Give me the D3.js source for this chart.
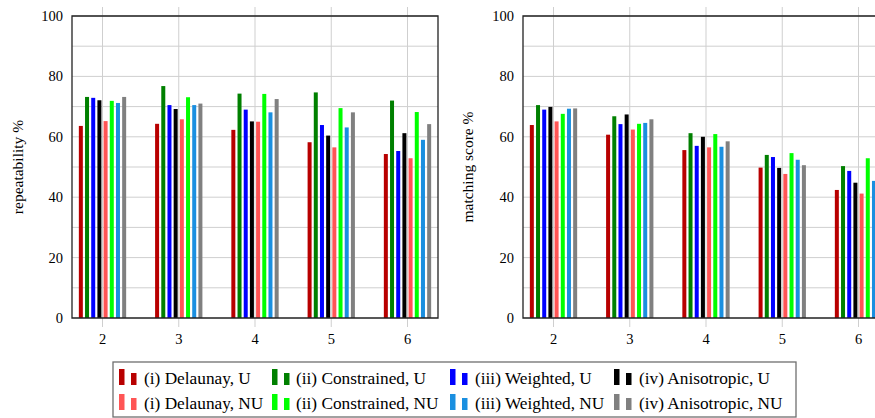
<!DOCTYPE html>
<html>
<head>
<meta charset="utf-8">
<script src="https://cdn.jsdelivr.net/npm/d3@7"></script>
<style>
  html, body { margin: 0; padding: 0; background: #fff; }
  svg { display: block; }
  text { font-family: "Liberation Serif", "Times New Roman", serif; fill: #000; }
</style>
</head>
<body>
<svg id="chart" width="875" height="418"></svg>
<script>
// ---- data ----
const categories = [2, 3, 4, 5, 6];
const seriesNames = [
  "(i) Delaunay, U", "(ii) Constrained, U", "(iii) Weighted, U", "(iv) Anisotropic, U",
  "(i) Delaunay, NU", "(ii) Constrained, NU", "(iii) Weighted, NU", "(iv) Anisotropic, NU"
];
const seriesColors = ["#b80000", "#008000", "#0000ff", "#000000", "#ff5555", "#00ff00", "#1a8fe0", "#808080"];
const yTicks = [0, 20, 40, 60, 80, 100];

// repeatability %, one array per series (categories 2..6)
const repDelaunayU      = [63.6, 64.3, 62.3, 58.2, 54.3];
const repConstrainedU   = [73.2, 76.8, 74.3, 74.7, 72.0];
const repWeightedU      = [72.9, 70.5, 69.0, 63.9, 55.3];
const repAnisotropicU   = [72.1, 69.2, 65.1, 60.4, 61.2];
const repDelaunayNU     = [65.2, 65.8, 65.0, 56.5, 52.9];
const repConstrainedNU  = [71.9, 73.1, 74.2, 69.5, 68.2];
const repWeightedNU     = [71.2, 70.5, 68.1, 63.1, 59.0];
const repAnisotropicNU  = [73.2, 71.0, 72.5, 68.1, 64.2];

// matching score %
const msDelaunayU       = [63.9, 60.7, 55.6, 49.8, 42.4];
const msConstrainedU    = [70.5, 66.8, 61.2, 54.0, 50.3];
const msWeightedU       = [69.0, 64.2, 57.0, 53.3, 48.7];
const msAnisotropicU    = [69.9, 67.4, 60.0, 49.7, 44.8];
const msDelaunayNU      = [65.1, 62.4, 56.5, 47.7, 41.2];
const msConstrainedNU   = [67.6, 64.3, 60.9, 54.6, 52.9];
const msWeightedNU      = [69.3, 64.6, 56.7, 52.4, 45.4];
const msAnisotropicNU   = [69.4, 65.8, 58.5, 50.6, 45.0];

const repSeries = [repDelaunayU, repConstrainedU, repWeightedU, repAnisotropicU,
                   repDelaunayNU, repConstrainedNU, repWeightedNU, repAnisotropicNU];
const msSeries  = [msDelaunayU, msConstrainedU, msWeightedU, msAnisotropicU,
                   msDelaunayNU, msConstrainedNU, msWeightedNU, msAnisotropicNU];

// ---- drawing ----
const svg = d3.select("#chart");
const yTop = 16, yBot = 318;
const y = d3.scaleLinear().domain([0, 100]).range([yBot, yTop]);
const gridColor = "#cfcfcf";
const barW = 4;

function panel(x0, x1, series, label, labelX) {
  const g = svg.append("g");
  const x = d3.scaleLinear().domain([1.6, 6.4]).range([x0, x1]);
  const band = d3.scaleBand().domain(d3.range(seriesNames.length)).range([-24.75, 24.75]).padding(0);

  // horizontal grid every 10
  g.selectAll(".hg").data(d3.range(10, 101, 10)).join("line")
    .attr("x1", x0).attr("x2", x1)
    .attr("y1", d => y(d)).attr("y2", d => y(d))
    .attr("stroke", gridColor).attr("stroke-width", 1);

  // vertical grid + outer ticks
  g.selectAll(".vg").data(categories).join("line")
    .attr("x1", d => x(d)).attr("x2", d => x(d))
    .attr("y1", yTop - 9).attr("y2", yBot + 9)
    .attr("stroke", gridColor).attr("stroke-width", 1);

  // bars
  series.forEach((vals, si) => {
    g.selectAll(".b" + si).data(vals).join("rect")
      .attr("x", (d, i) => x(categories[i]) + band(si) + (band.bandwidth() - barW) / 2)
      .attr("width", barW)
      .attr("y", d => y(d))
      .attr("height", d => y(0) - y(d))
      .attr("fill", seriesColors[si]);
  });

  // frame
  g.append("path")
    .attr("d", `M${x0},${yTop}H${x1}V${yBot}H${x0}Z`)
    .attr("fill", "none").attr("stroke", "#222").attr("stroke-width", 1.3);

  // y tick labels
  g.selectAll(".yl").data(yTicks).join("text")
    .attr("x", x0 - 9).attr("y", d => y(d))
    .attr("dy", "0.34em").attr("text-anchor", "end")
    .attr("font-size", "14.5px").text(d => d);

  // x tick labels
  g.selectAll(".xl").data(categories).join("text")
    .attr("x", d => x(d)).attr("y", yBot + 26)
    .attr("text-anchor", "middle")
    .attr("font-size", "14.5px").text(d => d);

  // axis label
  g.append("text")
    .attr("transform", `translate(${labelX},${(yTop + yBot) / 2}) rotate(-90)`)
    .attr("text-anchor", "middle").attr("dy", "0.34em")
    .attr("font-size", "15.5px").text(label);
}

panel(72, 438, repSeries, "repeatability %", 18);
panel(523, 889, msSeries, "matching score %", 468);

// legend
const legend = svg.append("g");
legend.append("rect")
  .attr("x", 113).attr("y", 362).attr("width", 683).attr("height", 55)
  .attr("fill", "#fff").attr("stroke", "#6f6f6f").attr("stroke-width", 1.3);
const colSwatchX = [119, 272, 450, 614];
const colTextX = [144, 296, 475, 639];
const rowBase = [384, 409];
seriesNames.forEach((name, i) => {
  const c = i % 4, r = Math.floor(i / 4);
  const lg = legend.append("g");
  lg.append("rect").attr("x", colSwatchX[c]).attr("y", rowBase[r] - 15)
    .attr("width", 5.5).attr("height", 16).attr("fill", seriesColors[i]);
  lg.append("rect").attr("x", colSwatchX[c] + 12).attr("y", rowBase[r] - 11)
    .attr("width", 5.5).attr("height", 12).attr("fill", seriesColors[i]);
  lg.append("text").attr("x", colTextX[c]).attr("y", rowBase[r])
    .attr("font-size", "17.3px").text(name);
});
</script>
</body>
</html>
